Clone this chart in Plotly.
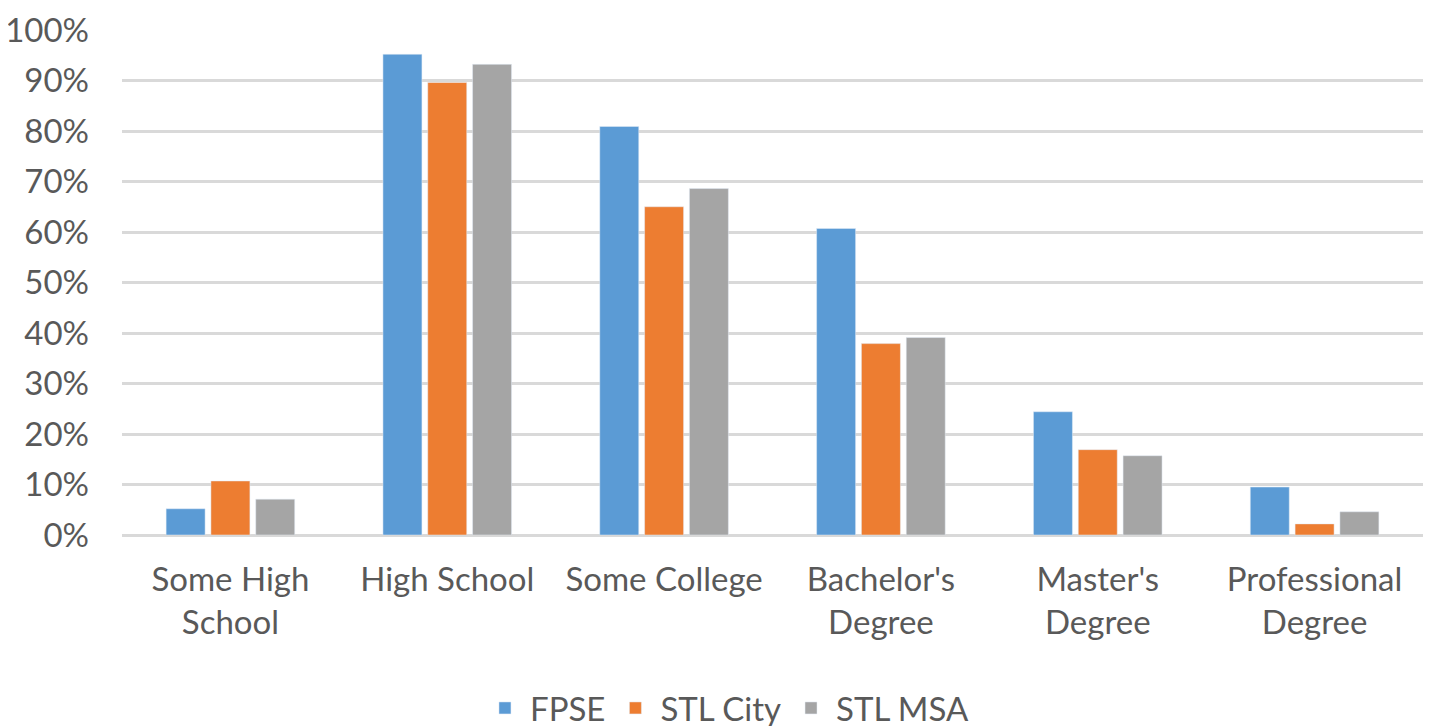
import plotly.graph_objects as go

categories = ["Some High<br>School", "High School", "Some College", "Bachelor's<br>Degree", "Master's<br>Degree", "Professional<br>Degree"]
fpse = [0.052, 0.952, 0.809, 0.607, 0.244, 0.095]
stl_city = [0.107, 0.896, 0.650, 0.379, 0.169, 0.022]
stl_msa = [0.071, 0.932, 0.686, 0.391, 0.157, 0.046]
tick_vals = [i / 10 for i in range(11)]
tick_text = [f"{i*10}%" for i in range(11)]

font_family = "Lato, 'Open Sans', sans-serif"
grey = "#595959"
fs = 33

fig = go.Figure()
fig.add_trace(go.Bar(name="FPSE", x=categories, y=fpse, marker_color="#5B9BD5"))
fig.add_trace(go.Bar(name="STL City", x=categories, y=stl_city, marker_color="#ED7D31"))
fig.add_trace(go.Bar(name="STL MSA", x=categories, y=stl_msa, marker_color="#A5A5A5"))

fig.update_layout(
    width=1426, height=740,
    margin=dict(l=114, r=11, t=22, b=213),
    paper_bgcolor="white", plot_bgcolor="white",
    barmode="group", bargap=0.38, bargroupgap=0.13,
    font=dict(family=font_family, color=grey, size=fs),
    showlegend=True,
    legend=dict(orientation="h", x=0.465, xanchor="center", y=-0.3426, yanchor="middle",
                font=dict(size=fs, color=grey), itemwidth=40, traceorder="normal"),
    xaxis=dict(showgrid=False, showline=False, ticks="", automargin=False,
               ticklabelstandoff=22, tickfont=dict(size=fs, color=grey)),
    yaxis=dict(range=[0, 1.0], tickvals=tick_vals, ticktext=tick_text, showgrid=True,
               gridcolor="#D9D9D9", gridwidth=3, zeroline=True, zerolinecolor="#D9D9D9",
               zerolinewidth=3, showline=False, ticks="", ticklabelstandoff=32, automargin=False,
               tickfont=dict(size=fs, color=grey)),
)

fig.write_html("out.html")
